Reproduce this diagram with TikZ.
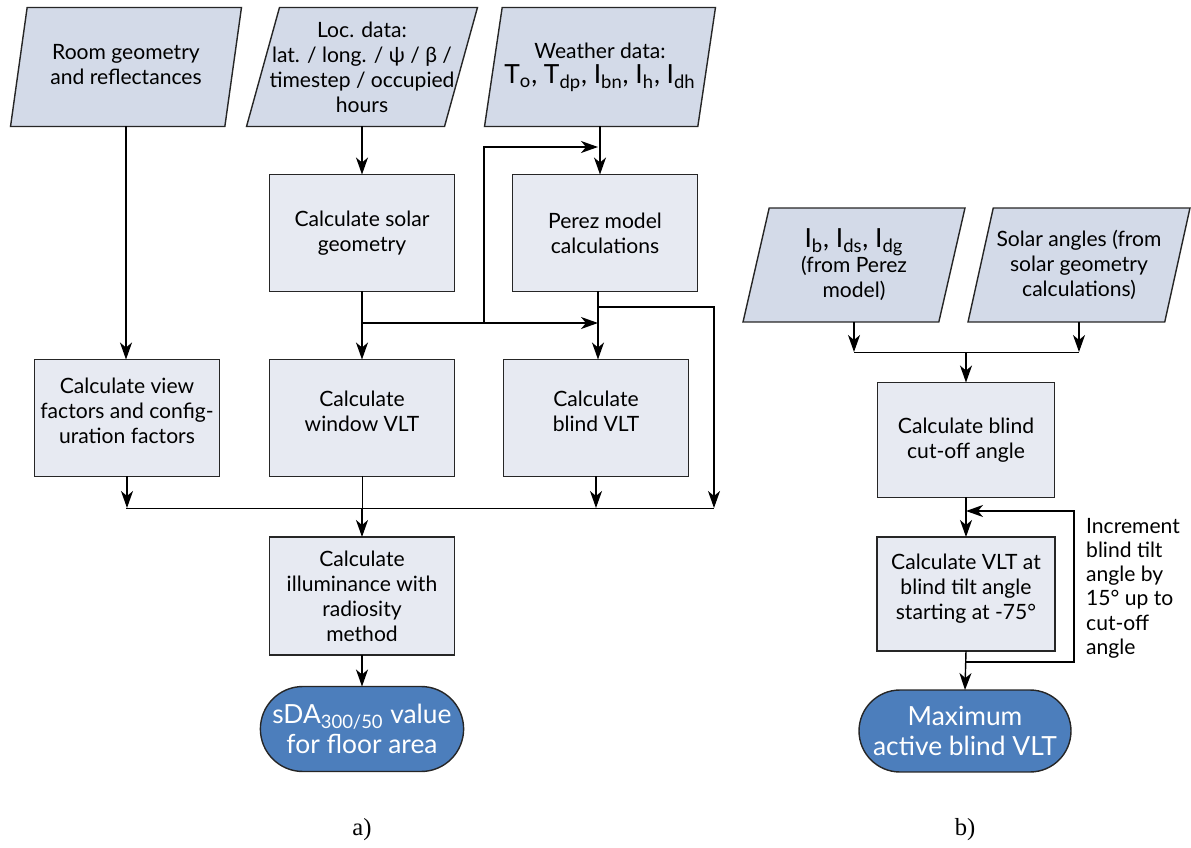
\documentclass[tikz,border=0pt]{standalone}
\usepackage{fontspec}
\setmainfont{Lato}
\newfontfamily\capfont{Liberation Serif}
\usetikzlibrary{shapes.geometric,shapes.misc,arrows.meta,positioning}

\definecolor{datafill}{RGB}{211,218,232}
\definecolor{procfill}{RGB}{231,234,242}
\definecolor{endfill}{RGB}{76,126,188}

% extra empty line that lifts the text a little inside a box
\newcommand{\liftup}{\\[-6pt]\mbox{}}

\tikzset{
  datanode/.style = {trapezium, trapezium left angle=70, trapezium right angle=110,
    trapezium stretches body, draw=black!85, fill=datafill, line width=0.8pt,
    align=center, minimum width=4.62cm, minimum height=2.38cm,
    inner xsep=-30pt, inner ysep=0pt, outer sep=0pt,
    font=\fontsize{12}{14.2}\selectfont},
  procnode/.style = {rectangle, draw=black!85, fill=procfill, line width=0.8pt,
    align=center, minimum width=3.7cm, minimum height=2.34cm, outer sep=0pt,
    font=\fontsize{12}{14.2}\selectfont},
  endnode/.style = {rounded rectangle, draw=black!85, fill=endfill, text=white,
    line width=0.8pt, align=center, minimum width=4.3cm, minimum height=1.7cm,
    outer sep=0pt, font=\fontsize{15}{17}\selectfont},
  flow/.style = {-{Stealth[length=3.4mm,width=2.4mm,inset=1mm]}, line width=0.8pt}
}

\begin{document}
\begin{tikzpicture}[x=0.02cm, y=-0.02cm]
\useasboundingbox (0,0) rectangle (1191,848);

% a) daylighting flow
\node [datanode] (room) at (126,67) {Room geometry\\and reflectances\\[-11pt]\mbox{}};
\node [datanode] (loc) at (362,67) {Loc. data:\\lat. / long. / ψ / β /\\timestep / occupied\\hours};
\node [datanode] (weather) at (600,67) {Weather data:\\{\fontsize{15}{18}\selectfont T\textsubscript{o}, T\textsubscript{dp}, I\textsubscript{bn}, I\textsubscript{h}, I\textsubscript{dh}}};

\node [procnode] (solar) at (362,233) {Calculate solar\\geometry};
\node [procnode] (perez) at (605,233) {Perez model\\calculations};

\node [procnode] (viewfac) at (127,418) {Calculate view\\factors and config-\\uration factors\liftup};
\node [procnode] (window) at (362,418) {Calculate\\window VLT\liftup};
\node [procnode] (blind) at (596,418) {Calculate\\blind VLT\liftup};

\node [procnode, minimum height=2.36cm] (illum) at (362,596) {Calculate\\illuminance with\\radiosity\\method};
\node [endnode] (sda) at (362,729) {sDA\textsubscript{300/50} value\\for floor area};

\coordinate (split) at (362,323);
\coordinate (merge) at (598,323);
\coordinate (riser) at (484,323);
\coordinate (feed) at (598,147);
\coordinate (tap) at (598,307);
\coordinate (busL) at (126,508);
\coordinate (busR) at (714,508);

\draw [flow] (room.center |- room.south) -- (room.center |- viewfac.north);
\draw [flow] (loc.center |- loc.south) -- (solar.north);
\draw [flow] (weather.center |- weather.south) -- (weather.center |- perez.north);
\draw [flow] (solar.south) -- (window.north);
\draw [flow] (split) -- (merge);
\draw [flow] (riser) -- (riser |- feed) -- (feed);
\draw [flow] (perez.south -| feed) -- (blind.north -| feed);
\draw [flow] (tap) -- (tap -| busR) -- (busR);
\draw (busL) -- (busR);
\draw [flow] (viewfac.south) -- (viewfac.south |- busL);
\draw (window.south) -- (window.south |- busL);
\draw [flow] (blind.south) -- (blind.south |- busL);
\draw [flow] (window.south |- busL) -- (illum.north);
\draw [flow] (illum.south) -- (sda.north);

% b) blind VLT flow
\node [datanode, minimum width=4.44cm, minimum height=2.28cm] (irrad) at (854,265) {{\fontsize{15}{16}\selectfont I\textsubscript{b}, I\textsubscript{ds}, I\textsubscript{dg}}\\(from Perez\\model)};
\node [datanode, minimum width=4.44cm, minimum height=2.28cm] (solang) at (1079,265) {Solar angles (from\\solar geometry\\calculations)};

\node [procnode, minimum width=3.54cm, minimum height=2.3cm] (cutoff) at (966,440) {Calculate blind\\cut-off angle};
\node [procnode, minimum width=3.56cm, minimum height=2.28cm] (vltcalc) at (966,594) {Calculate VLT at\\blind tilt angle\\starting at -75°\liftup};
\node [endnode, minimum width=4.2cm, minimum height=1.64cm] (maxvlt) at (965,731) {Maximum\\active blind VLT};

\node [anchor=west, align=left, font=\fontsize{12}{13.8}\selectfont] (incr) at (1080,588) {Increment\\blind tilt\\angle by\\15° up to\\cut-off\\angle};

\coordinate (bus2) at (966,352);
\coordinate (loopout) at (966,662);
\coordinate (loopin) at (966,511);

\draw [flow] (irrad.center |- irrad.south) -- (irrad.center |- bus2);
\draw [flow] (solang.center |- solang.south) -- (solang.center |- bus2);
\draw (irrad.center |- bus2) -- (solang.center |- bus2);
\draw [flow] (bus2) -- (cutoff.north);
\draw [flow] (cutoff.south) -- (vltcalc.north);
\draw [flow] (loopout) -- (1074,662) -- (1074,511) -- (loopin);
\draw [flow] (vltcalc.south) -- (maxvlt.north);

\node [font=\capfont\fontsize{14}{16}\selectfont] (capa) at (362,830) {a)};
\node [font=\capfont\fontsize{14}{16}\selectfont] (capb) at (965,830) {b)};
\end{tikzpicture}
\end{document}
